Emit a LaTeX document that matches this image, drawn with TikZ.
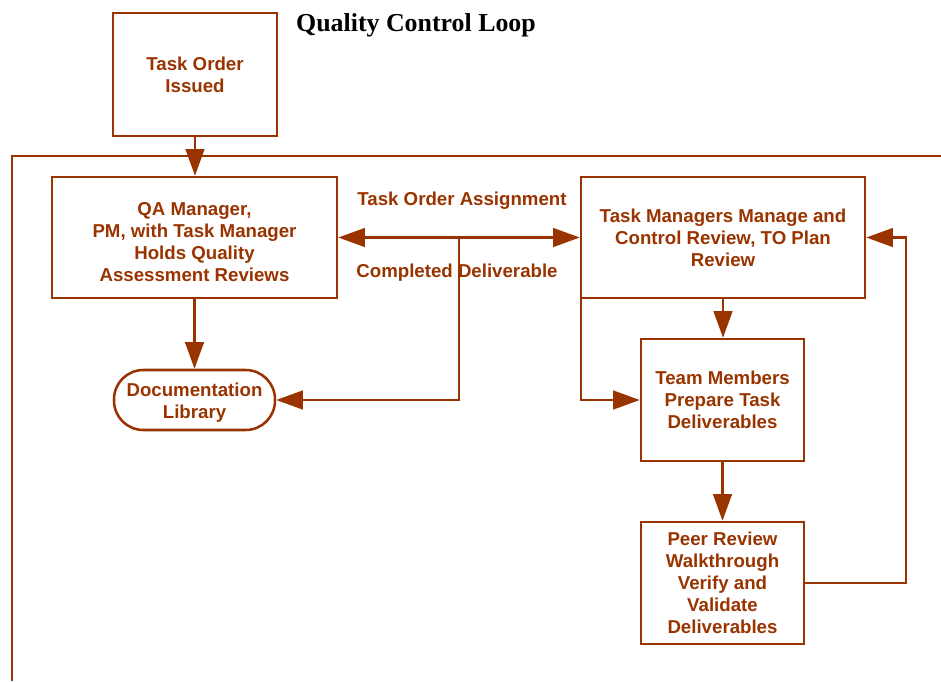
\documentclass[tikz,border=0pt]{standalone}
\usepackage{fontspec}
\setmainfont{Liberation Sans}
\newfontfamily\titlefont{Liberation Serif}
\usetikzlibrary{arrows.meta}
\definecolor{rust}{RGB}{153,51,0}
\begin{document}
\begin{tikzpicture}[x=0.75pt,y=-0.75pt,
  every node/.style={font=\fontsize{14pt}{16.5pt}\selectfont\bfseries, text=rust},
  box/.style={draw=rust, line width=1.9pt, align=center, inner sep=0pt},
  boxtext/.style={align=center, inner sep=0pt},
  stadium/.style={box, rounded corners=22pt},
  conn/.style={draw=rust, line width=1.9pt},
  arr/.style={conn, -{Triangle[length=20pt,width=14pt]}},
  arrtwo/.style={conn, {Triangle[length=20pt,width=14pt]}-{Triangle[length=20pt,width=14pt]}},
  lbl/.style={anchor=base}
]
\useasboundingbox (0,0) rectangle (941,681);
% title
\node[anchor=base, text=black, font=\titlefont\fontsize{19.4pt}{22pt}\selectfont\bfseries] (title) at (416,32) {Quality Control Loop};
% open frame
\draw[conn] (12,681) -- (12,156) -- (941,156);
% boxes
\node[box, minimum width=164*0.75pt, minimum height=123*0.75pt] (toi) at (195,74.5) {Task Order\\Issued};
\node[box, minimum width=285*0.75pt, minimum height=121*0.75pt] (qa) at (194.5,237.5) {};
\node[boxtext] (qatext) at ([yshift=-3.5pt]qa.center) {QA Manager,\\PM, with Task Manager\\Holds Quality\\Assessment Reviews};
\node[stadium, minimum width=161*0.75pt, minimum height=60*0.75pt] (doc) at (194.5,400) {};
\node[boxtext] (doctext) at ([yshift=-2pt]doc.center) {Documentation\\Library};
\node[box, minimum width=284*0.75pt, minimum height=121*0.75pt] (tm) at (723,237.5) {Task Managers Manage and\\Control Review, TO Plan\\Review};
\node[box, minimum width=163*0.75pt, minimum height=122*0.75pt] (team) at (722.5,400) {Team Members\\Prepare Task\\Deliverables};
\node[box, minimum width=163*0.75pt, minimum height=122*0.75pt] (peer) at (722.5,583) {Peer Review\\Walkthrough\\Verify and\\Validate\\Deliverables};
% labels
\node[lbl] (assign) at (462,205) {Task Order Assignment};
\node[lbl] (compl) at (457,277) {Completed Deliverable};
% connectors
\draw[arr] (toi.south) -- (toi.south |- qa.north);
\draw[arr] (qa.south) -- (doc.north);
\draw[arrtwo] (qa.east) -- (tm.west);
\coordinate (j) at (459,237.5);
\draw[arr] (j) |- (doc.east);
\draw[arr] (tm.south) -- (tm.south |- team.north);
\draw[arr] ([xshift=0.95pt,yshift=0.95pt]tm.south west) |- (team.west);
\draw[arr] (team.south) -- (peer.north);
\coordinate (rr) at (906,400);
\draw[arr] (peer.east) -| (rr) |- (tm.east);
\end{tikzpicture}
\end{document}
